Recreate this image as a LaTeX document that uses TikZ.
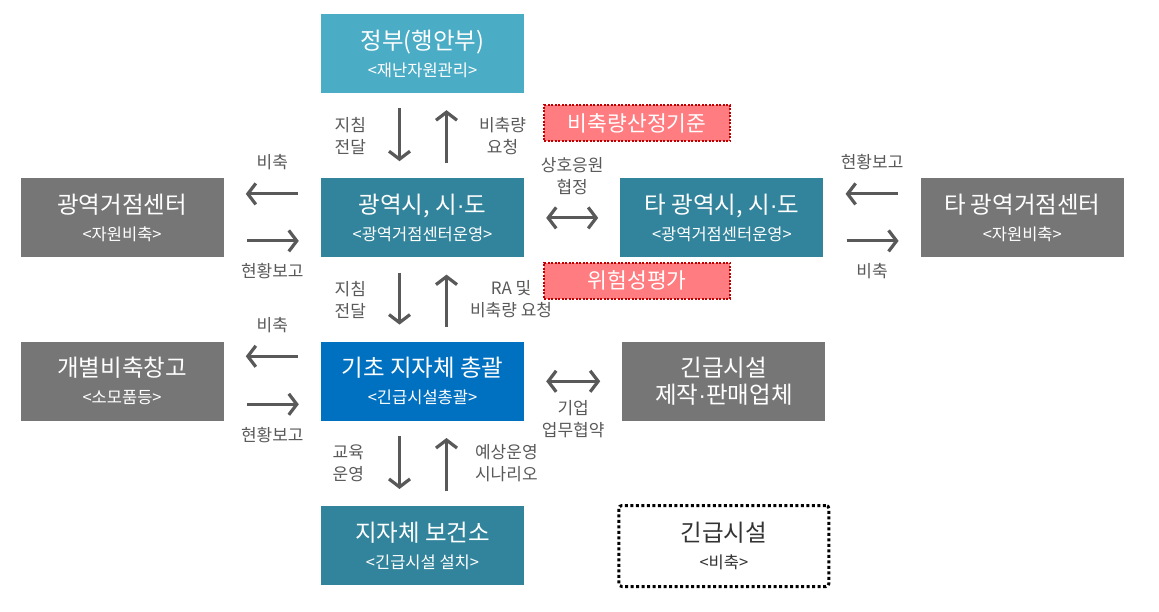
\documentclass[tikz,border=0pt]{standalone}
\usepackage{fontspec}
\setmainfont{Noto Sans CJK KR}
\newfontfamily\dotfont{Liberation Sans}
\usepackage{tikz}
\usetikzlibrary{arrows.meta,positioning}
\definecolor{govblue}{HTML}{4BACC6}
\definecolor{regionteal}{HTML}{31849B}
\definecolor{localblue}{HTML}{0070C0}
\definecolor{storegray}{HTML}{767676}
\definecolor{badgered}{HTML}{FF7C80}
\definecolor{badgeline}{HTML}{C00000}
\definecolor{arrowgray}{HTML}{595959}
\newcommand{\boxsub}[1]{{\fontsize{16.5}{19}\selectfont #1}}
\newcommand{\mdot}{{\dotfont ·}}
\tikzset{%
  >={Straight Barb[length=8pt,width=21pt]},
  % Specifications for style of nodes:
        base/.style = {rectangle, draw=none, minimum width=203pt, minimum height=79pt,
                       text centered, align=center, text=white,
                       font=\fontsize{23.5}{27}\selectfont},
  government/.style = {base, fill=govblue},
      region/.style = {base, fill=regionteal},
       local/.style = {base, fill=localblue},
     storage/.style = {base, fill=storegray},
   stockpile/.style = {base, minimum width=210pt, minimum height=81pt, fill=white,
                       text=black!80, draw=black, line width=3pt,
                       dash pattern=on 3pt off 2.5pt, rounded corners=3pt},
       badge/.style = {base, minimum width=186pt, minimum height=36pt, fill=badgered,
                       draw=badgeline, line width=2pt, dash pattern=on 2pt off 1.5pt,
                       font=\fontsize{21.5}{24}\selectfont},
   flowlabel/.style = {inner sep=0pt, align=center, text=arrowgray,
                       font=\fontsize{17}{22}\selectfont},
  % Specifications for style of arrows:
        flow/.style = {draw=arrowgray, line width=3.2pt},
       vflow/.style = {flow, ->, shorten <=15pt, shorten >=17pt},
       hflow/.style = {flow, ->, shorten <=23pt, shorten >=22pt},
      biflow/.style = {flow, <->, shorten <=22pt, shorten >=22pt},
}
\begin{document}
\begin{tikzpicture}[x=1pt, y=1pt]
\useasboundingbox (0,0) rectangle (1159,-612);
% boxes
\node (gov)    [government] at (422.5,-53.5) {정부(행안부)\\\boxsub{<재난자원관리>}};
\node (metro)  [region, below=85pt of gov]     {광역시, 시\mdot 도\\\boxsub{<광역거점센터운영>}};
\node (basic)  [local, below=84pt of metro]    {기초 지자체 총괄\\\boxsub{<긴급시설총괄>}};
\node (health) [region, below=85pt of basic]   {지자체 보건소\\\boxsub{<긴급시설 설치>}};
\node (hub)    [storage, left=97pt of metro]   {광역거점센터\\\boxsub{<자원비축>}};
\node (store)  [storage, left=97pt of basic]   {개별비축창고\\\boxsub{<소모품등>}};
\node (metroB) [region, right=96pt of metro]   {타 광역시, 시\mdot 도\\\boxsub{<광역거점센터운영>}};
\node (hubB)   [storage, right=97pt of metroB] {타 광역거점센터\\\boxsub{<자원비축>}};
\node (maker)  [storage, right=98pt of basic]  {긴급시설\\제작\mdot 판매업체};
\node (stock)  [stockpile, below=83pt of maker] {긴급시설\\\boxsub{<비축>}};
\node (basis)  [badge, above right=36pt and 19pt of metro.north east] {비축량산정기준};
\node (risk)   [badge, below right=4pt and 19pt of metro.south east] {위험성평가};

% vertical flows
\draw[vflow] ([xshift=-23pt]gov.south) -- node[flowlabel, left=32pt] {지침\\전달} ([xshift=-23pt]metro.north);
\draw[vflow] ([xshift=24pt]metro.north) -- node[flowlabel, right=31pt] {비축량\\요청} ([xshift=24pt]gov.south);
\draw[vflow] ([xshift=-23pt]metro.south) -- node[flowlabel, left=32pt] {지침\\전달} ([xshift=-23pt]basic.north);
\draw[vflow] ([xshift=24pt]basic.north) -- node[flowlabel, right=22pt] {RA 및\\비축량 요청} ([xshift=24pt]metro.south);
\draw[vflow] ([xshift=-23pt]basic.south) -- node[flowlabel, left=34pt] {교육\\운영} ([xshift=-23pt]health.north);
\draw[vflow] ([xshift=24pt]health.north) -- node[flowlabel, right=27pt] {예상운영\\시나리오} ([xshift=24pt]basic.south);

% horizontal flows
\draw[hflow] ([yshift=24pt]metro.west) -- node[flowlabel, above=22pt] {비축} ([yshift=24pt]hub.east);
\draw[hflow] ([yshift=-23pt]hub.east) -- node[flowlabel, below=21pt] {현황보고} ([yshift=-23pt]metro.west);
\draw[hflow] ([yshift=25pt]basic.west) -- node[flowlabel, above=22pt] {비축} ([yshift=25pt]store.east);
\draw[hflow] ([yshift=-23pt]store.east) -- node[flowlabel, below=21pt] {현황보고} ([yshift=-23pt]basic.west);
\draw[hflow] ([yshift=24pt]hubB.west) -- node[flowlabel, above=22pt] {현황보고} ([yshift=24pt]metroB.east);
\draw[hflow] ([yshift=-23pt]metroB.east) -- node[flowlabel, below=21pt] {비축} ([yshift=-23pt]hubB.west);
\draw[biflow] (metro) -- node[flowlabel, above=21pt] {상호응원\\협정} (metroB);
\draw[biflow] (basic) -- node[flowlabel, below=18pt] {기업\\업무협약} (maker);
\end{tikzpicture}
\end{document}
